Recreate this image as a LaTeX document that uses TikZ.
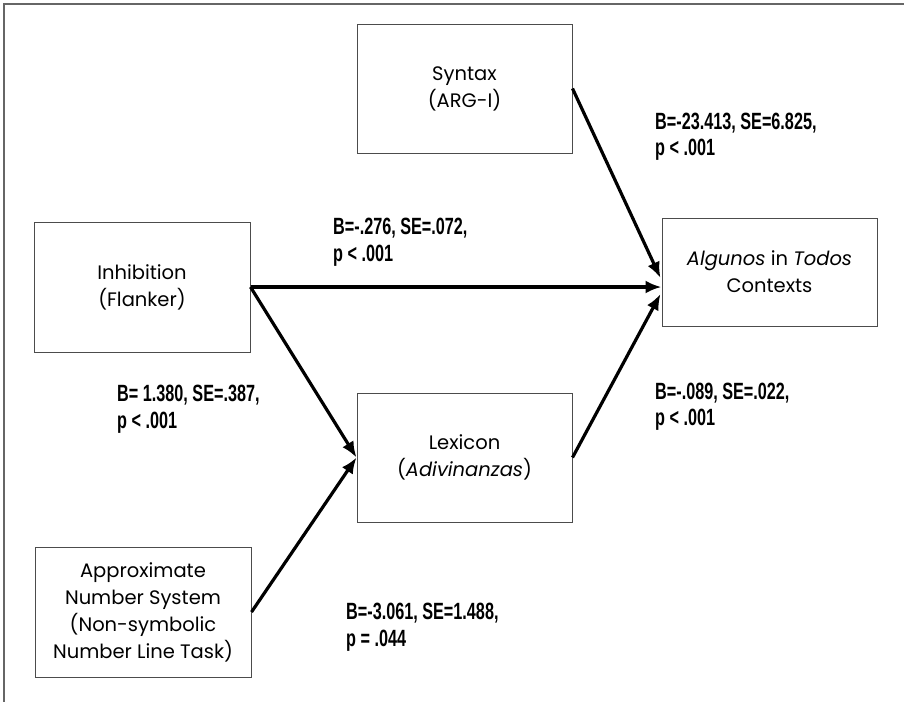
\documentclass[tikz,border=0pt]{standalone}
\usepackage{fontspec}
\setmainfont{Poppins}
\newfontfamily\statfont[FakeStretch=0.69]{Liberation Sans}
\usetikzlibrary{arrows.meta,calc}
\begin{document}
\begin{tikzpicture}[x=1pt,y=-1pt,
    box/.style={draw=black!70,line width=1pt,align=center,inner sep=0pt,
      minimum width=215pt,minimum height=129pt,font=\fontsize{19.5}{27}\selectfont},
    stat/.style={anchor=west,align=left,inner sep=0pt,
      font=\statfont\bfseries\fontsize{23.5}{26.5}\selectfont},
    link/.style={line width=3.2pt,-{Latex[length=16pt,width=13pt]}}]
        \useasboundingbox (0,0) rectangle (904,702);
        \draw[black!60,line width=2pt] (904,4) -- (4,4) -- (4,702);
        \node[box] (syntax) at (464.5,88.5) {Syntax\\(ARG-I)};
        \node[box,minimum width=216pt,minimum height=130pt] (inhib) at (142,287) {Inhibition\\(Flanker)};
        \node[box] (lexicon) at (464.5,457.5) {Lexicon\\(\textit{Adivinanzas})};
        \node[box,minimum height=108pt] (algunos) at (769.5,272) {\textit{Algunos} in \textit{Todos}\\Contexts};
        \node[box,minimum width=216pt,minimum height=130pt] (ans) at (143,612)
          {Approximate\\Number System\\(Non-symbolic\\Number Line Task)};
        \draw[link] (syntax.east) -- ($(algunos.west)+(-1,6)$);
        \draw[link] (inhib.east) -- (inhib.east -| algunos.west);
        \draw[link] (lexicon.east) -- ($(algunos.west)+(-1,22)$);
        \draw[link] (inhib.east) -- (lexicon.west);
        \draw[link] (ans.east) -- (lexicon.west);
        \node[stat] (statsyn) at (655,136.5) {B=-23.413, SE=6.825,\\p < .001};
        \node[stat] (statinh) at (333,242) {B=-.276, SE=.072,\\p < .001};
        \node[stat] (statinlex) at (117,409) {B= 1.380, SE=.387,\\p < .001};
        \node[stat] (statlex) at (655,406.5) {B=-.089, SE=.022,\\p < .001};
        \node[stat] (statans) at (346,627) {B=-3.061, SE=1.488,\\p = .044};
      \end{tikzpicture}
\end{document}
